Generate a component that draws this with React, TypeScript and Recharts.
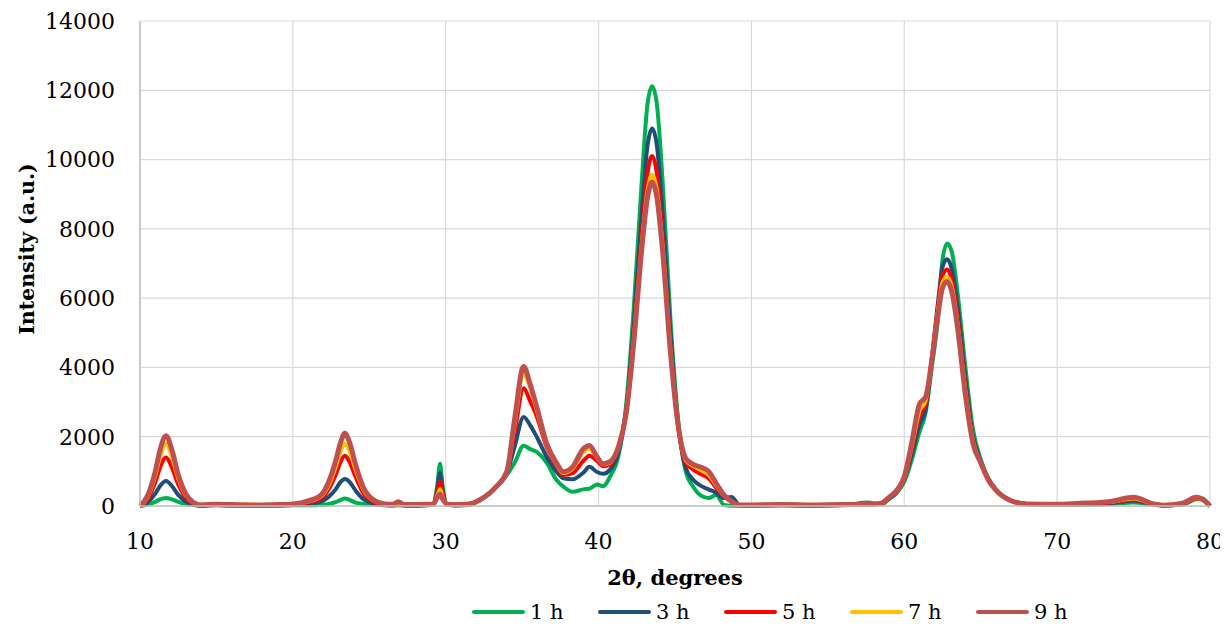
import React from 'react';
import { LineChart, Line, XAxis, YAxis, CartesianGrid, Legend, Label } from 'recharts';

// 2θ positions (degrees)
const twoTheta = [
  10, 10.5, 11, 11.3, 11.7, 12.1, 12.5, 13, 13.5, 14,
  15, 16, 17, 18, 19, 20, 21,
  21.8, 22.3, 22.8, 23.1, 23.4, 23.7, 24.1, 24.6, 25.2, 26,
  26.5, 26.9, 27.3, 28, 28.8, 29.2, 29.45, 29.63, 29.8, 30.1, 30.6,
  31.5, 32.2, 33.3, 34, 34.5, 35.1, 35.5, 35.95,
  36.6, 37.25, 37.7, 38.3, 39, 39.4, 39.9, 40.3, 40.75,
  41.3, 41.8, 42.3, 42.8, 43.2, 43.5, 43.8, 44.2, 44.7, 45.2, 45.7,
  46.2, 46.7, 47.2, 47.7, 48.2, 48.7, 49.2,
  50, 52, 54, 56, 57.6, 58.5,
  59, 59.5, 60, 60.5, 61, 61.4, 61.8, 62.2, 62.5, 62.8, 63.1,
  63.5, 64, 64.5, 65, 65.5, 66, 67, 68,
  70, 71.5, 72.8, 73.5, 75, 76.3, 77, 78.2, 79.1, 79.5, 80,
];

const h1 = [
  0, 40, 120, 190, 230, 190, 120, 60, 30, 10,
  20, 10, 10, 10, 10, 20, 20,
  30, 50, 110, 170, 220, 180, 100, 60, 40, 20,
  10, 20, 10, 0, 20, 50, 600, 1220, 550, 40, 10,
  30, 150, 560, 900, 1240, 1740, 1650, 1560,
  1250, 750, 560, 410, 480, 500, 620, 570, 850,
  1450, 2900, 5700, 9200, 11600, 12120, 11650, 9300, 5400, 2500, 1000,
  550, 300, 230, 320, 30, 10, 10,
  10, 20, 10, 20, 100, 50,
  200, 380, 700, 1350, 2150, 2700, 4000, 5400, 7100, 7580, 7350,
  6100, 4000, 2200, 1350, 800, 480, 150, 60,
  30, 40, 50, 60, 100, 40, 10, 40, 200, 220, 0,
];

const h3 = [
  0, 110, 360, 570, 720, 570, 320, 130, 40, 10,
  30, 20, 20, 20, 20, 30, 60,
  120, 250, 480, 680, 780, 700, 450, 200, 80, 30,
  30, 40, 20, 20, 30, 50, 500, 950, 450, 50, 30,
  50, 170, 560, 950, 1700, 2570, 2350, 2000,
  1420, 990, 800, 770, 960, 1130, 980, 930, 1050,
  1550, 2750, 5200, 8300, 10400, 10900, 10450, 8400, 5000, 2400, 1100,
  750, 580, 480, 380, 230, 260, 40,
  20, 20, 20, 30, 60, 60,
  220, 400, 780, 1500, 2350, 2800, 4250, 5850, 6900, 7120, 6850,
  5700, 3650, 2000, 1300, 780, 470, 150, 60,
  40, 50, 60, 80, 150, 60, 20, 50, 220, 180, 0,
];

const h5 = [
  0, 200, 690, 1100, 1400, 1100, 620, 240, 70, 20,
  40, 30, 30, 20, 30, 40, 100,
  200, 450, 900, 1250, 1450, 1280, 850, 380, 140, 40,
  40, 70, 30, 30, 40, 60, 400, 700, 350, 50, 30,
  50, 170, 560, 980, 2100, 3400, 3050, 2600,
  1700, 1150, 900, 950, 1300, 1450, 1300, 1150, 1200,
  1700, 2700, 4900, 7700, 9600, 10100, 9650, 7700, 4600, 2300, 1260,
  1050, 920, 800, 520, 280, 120, 30,
  20, 30, 20, 30, 40, 70,
  230, 420, 800, 1650, 2600, 2950, 4250, 5750, 6650, 6830, 6550,
  5400, 3450, 1900, 1250, 770, 460, 150, 60,
  40, 60, 80, 100, 180, 50, 20, 60, 220, 180, 0,
];

const h7 = [
  0, 260, 880, 1400, 1790, 1400, 800, 310, 90, 30,
  50, 40, 40, 30, 40, 50, 130,
  260, 560, 1120, 1550, 1800, 1600, 1050, 480, 180, 60,
  40, 90, 40, 40, 50, 60, 300, 480, 250, 50, 40,
  60, 170, 560, 1000, 2350, 3800, 3450, 2780,
  1760, 1200, 950, 1080, 1550, 1650, 1400, 1200, 1250,
  1750, 2650, 4750, 7400, 9100, 9560, 9150, 7450, 4500, 2350, 1320,
  1150, 1030, 900, 600, 300, 130, 30,
  30, 50, 30, 30, 40, 80,
  250, 430, 820, 1750, 2750, 3050, 4250, 5600, 6450, 6620, 6350,
  5200, 3300, 1850, 1250, 760, 460, 150, 60,
  50, 70, 100, 120, 220, 60, 30, 70, 230, 180, 0,
];

const h9 = [
  0, 300, 1000, 1600, 2030, 1600, 900, 350, 100, 30,
  50, 40, 30, 30, 40, 60, 150,
  300, 650, 1300, 1800, 2100, 1850, 1200, 550, 200, 60,
  50, 120, 40, 40, 50, 60, 250, 350, 200, 50, 40,
  60, 170, 560, 1000, 2480, 4030, 3550, 2870,
  1810, 1240, 990, 1130, 1650, 1750, 1420, 1220, 1280,
  1700, 2650, 4700, 7300, 8900, 9350, 8950, 7300, 4450, 2350, 1380,
  1200, 1120, 1000, 650, 320, 130, 30,
  30, 40, 30, 40, 40, 80,
  250, 450, 850, 1850, 2950, 3150, 4200, 5500, 6300, 6480, 6200,
  5100, 3200, 1800, 1250, 750, 450, 150, 60,
  50, 80, 100, 130, 250, 60, 20, 80, 250, 200, 0,
];

const xTicks = [10, 20, 30, 40, 50, 60, 70, 80];
const yTicks = [0, 2000, 4000, 6000, 8000, 10000, 12000, 14000];
const seriesNames = ['1 h', '3 h', '5 h', '7 h', '9 h'];
const seriesKeys = ['s1', 's3', 's5', 's7', 's9'];
const seriesColors = ['#00B050', '#1F4E79', '#FF0000', '#FFC000', '#C0504D'];
const seriesWidths = [4, 4, 4, 4, 5];

const FONT = '"DejaVu Serif", serif';

export default function App() {
  const data = twoTheta.map((x, i) => ({
    x,
    s1: h1[i],
    s3: h3[i],
    s5: h5[i],
    s7: h7[i],
    s9: h9[i],
  }));

  const renderLegend = () => (
    <div style={{ display: 'flex', paddingLeft: 464, height: 24, alignItems: 'center' }}>
      {seriesKeys.map((k, i) => (
        <div key={k} style={{ width: 126, display: 'flex', alignItems: 'center', flexShrink: 0 }}>
          <svg width={53} height={8} style={{ display: 'block' }}>
            <line x1={2} y1={4} x2={51} y2={4} stroke={seriesColors[i]} strokeWidth={4} strokeLinecap="round" />
          </svg>
          <span style={{ marginLeft: 5, fontFamily: FONT, fontSize: 21, color: '#000', lineHeight: '24px', whiteSpace: 'nowrap' }}>
            {seriesNames[i]}
          </span>
        </div>
      ))}
    </div>
  );

  return (
    <div style={{ width: 1220, height: 611, fontFamily: FONT }}>
      <LineChart width={1220} height={611} data={data} margin={{ top: 13, right: 18, left: 0, bottom: 53 }}>
        <CartesianGrid stroke="#D9D9D9" strokeWidth={1.2} />
        <XAxis
          dataKey="x"
          type="number"
          domain={[10, 80]}
          ticks={xTicks}
          interval={0}
          tickLine={false}
          tickSize={0}
          tickMargin={27}
          height={60}
          axisLine={{ stroke: '#BFBFBF', strokeWidth: 1.5 }}
          tick={{ fill: '#000', fontSize: 22, fontFamily: FONT }}
        >
          <Label
            content={() => (
              <text x={667} y={577} textAnchor="middle" fontFamily={FONT} fontWeight="bold" fontSize={21} fill="#000">
                2θ, degrees
              </text>
            )}
          />
        </XAxis>
        <YAxis
          type="number"
          domain={[0, 14000]}
          ticks={yTicks}
          interval={0}
          width={132}
          tickLine={false}
          tickSize={0}
          tickMargin={25}
          axisLine={{ stroke: '#BFBFBF', strokeWidth: 1.5 }}
          tick={{ fill: '#000', fontSize: 22, fontFamily: FONT }}
        >
          <Label
            content={() => (
              <text x={26} y={241} textAnchor="middle" transform="rotate(-90, 26, 241)" fontFamily={FONT} fontWeight="bold" fontSize={20.5} fill="#000">
                Intensity (a.u.)
              </text>
            )}
          />
        </YAxis>
        <Legend
          layout="horizontal"
          verticalAlign="middle"
          align="center"
          wrapperStyle={{ top: 592, left: 0, width: 1220, height: 24 }}
          content={renderLegend}
        />
        {seriesKeys.map((k, i) => (
          <Line
            key={k}
            dataKey={k}
            name={seriesNames[i]}
            type="monotone"
            stroke={seriesColors[i]}
            strokeWidth={seriesWidths[i]}
            dot={false}
            activeDot={false}
            isAnimationActive={false}
          />
        ))}
      </LineChart>
    </div>
  );
}
